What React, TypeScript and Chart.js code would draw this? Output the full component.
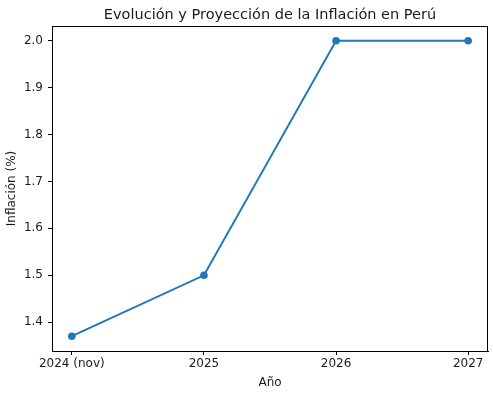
import React, { useEffect, useRef } from "react";
import { Chart, registerables } from "chart.js";

Chart.register(...registerables);

const categories = ["2024 (nov)", "2025", "2026", "2027"];
const inflation = [1.37, 1.5, 2.0, 2.0];
const yTicks = [1.4, 1.5, 1.6, 1.7, 1.8, 1.9, 2.0];
const title = "Evolución y Proyección de la Inflación en Perú";
const xTitle = "Año";
const yTitle = "Inflación (%)";

const FONT = "'DejaVu Sans', sans-serif";
const TXT = "#1a1a1a";

export default function App() {
  const ref = useRef<HTMLCanvasElement | null>(null);
  useEffect(() => {
    if (!ref.current) return;
    const lo = Math.min(...inflation);
    const hi = Math.max(...inflation);
    const m = (hi - lo) * 0.05;
    const xm = (categories.length - 1) * 0.05;
    const framePlugin = {
      id: "frame",
      afterDatasetsDraw(chart: any) {
        const { ctx, chartArea: a } = chart;
        ctx.save();
        ctx.strokeStyle = "#000";
        ctx.lineWidth = 1;
        ctx.strokeRect(Math.round(a.left) + 0.5, Math.round(a.top) + 0.5, Math.round(a.right - a.left) - 1, Math.round(a.bottom - a.top));
        ctx.restore();
      },
      afterDraw(chart: any) {
        const { ctx, chartArea: a } = chart;
        ctx.save();
        ctx.fillStyle = TXT;
        ctx.font = `14.5px ${FONT}`;
        ctx.textAlign = "center";
        ctx.textBaseline = "alphabetic";
        ctx.fillText(title, (a.left + a.right) / 2, 19);
        ctx.restore();
      },
    };
    const chart = new Chart(ref.current, {
      type: "line",
      data: {
        datasets: [
          {
            data: inflation.map((v, i) => ({ x: i, y: v })),
            borderColor: "#1f77b4",
            backgroundColor: "#1f77b4",
            borderWidth: 1.9,
            pointRadius: 3.8,
            pointBorderWidth: 0,
            pointHoverRadius: 3.8,
            tension: 0,
          },
        ],
      },
      options: {
        animation: false,
        responsive: false,
        layout: { padding: { top: 26, right: 5, left: 0, bottom: 0 } },
        plugins: { legend: { display: false }, tooltip: { enabled: false }, title: { display: false } },
        scales: {
          x: {
            type: "linear",
            min: -xm,
            max: categories.length - 1 + xm,
            afterBuildTicks: (s: any) => {
              s.ticks = categories.map((_, i) => ({ value: i }));
            },
            afterFit: (s: any) => {
              s.height = 42;
            },
            ticks: {
              callback: (v: any) => categories[Math.round(Number(v))] ?? "",
              color: TXT,
              font: { family: FONT, size: 12 },
              padding: 2,
              maxRotation: 0,
              autoSkip: false,
            },
            grid: { drawOnChartArea: false, drawTicks: true, tickLength: 4, color: "#000" },
            border: { display: true, color: "#000", width: 1 },
            title: { display: true, text: xTitle, color: TXT, font: { family: FONT, size: 12 }, padding: { top: 0, bottom: 3 } },
          },
          y: {
            type: "linear",
            min: lo - m,
            max: hi + m,
            afterBuildTicks: (s: any) => {
              s.ticks = yTicks.map((v) => ({ value: v }));
            },
            afterFit: (s: any) => {
              s.width = 52;
            },
            ticks: {
              callback: (v: any) => Number(v).toFixed(1),
              color: TXT,
              font: { family: FONT, size: 12 },
              padding: 5,
            },
            grid: { drawOnChartArea: false, drawTicks: true, tickLength: 4, color: "#000" },
            border: { display: true, color: "#000", width: 1 },
            title: { display: true, text: yTitle, color: TXT, font: { family: FONT, size: 12 }, padding: { top: 5, bottom: 0 } },
          },
        },
      },
      plugins: [framePlugin],
    } as any);
    return () => chart.destroy();
  }, []);
  return (
    <div style={{ position: "absolute", left: 0, top: 0, width: 493, height: 393, background: "#fff" }}>
      <canvas ref={ref} width={493} height={393} style={{ width: 493, height: 393 }} />
    </div>
  );
}
